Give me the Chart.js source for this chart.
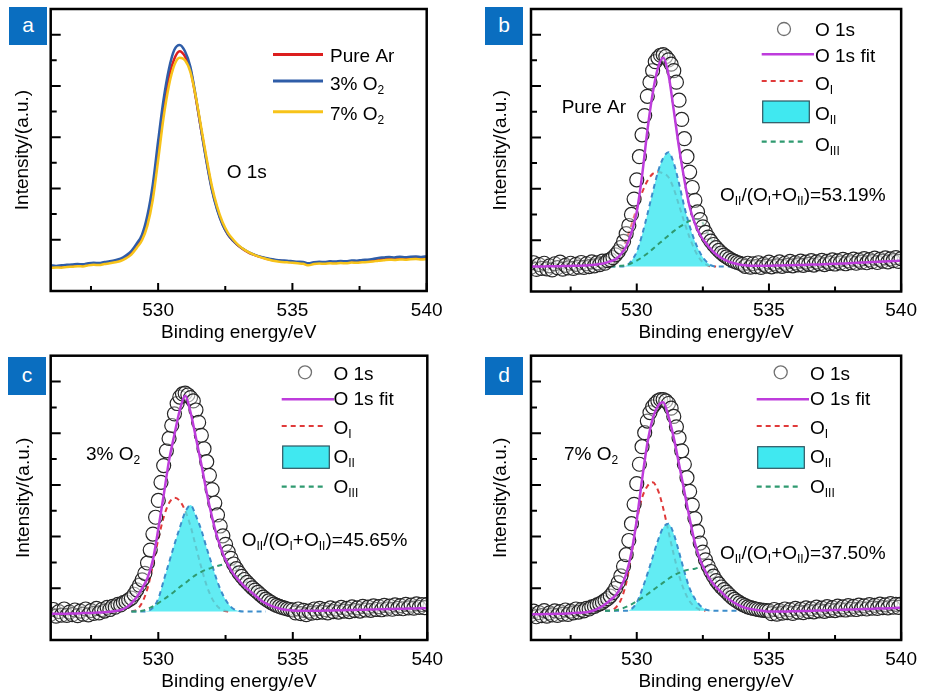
<!DOCTYPE html>
<html><head><meta charset="utf-8">
<script src="https://cdn.jsdelivr.net/npm/chart.js@4.4.1/dist/chart.umd.min.js"></script>
<style>
body{margin:0;background:#fff;width:925px;height:695px;position:relative;overflow:hidden;font-family:'Liberation Sans',Arial,sans-serif}
canvas{position:absolute}
.tag{position:absolute;width:38px;height:38px;background:#0A6EC0;color:#fff;font-size:21px;line-height:35px;text-align:center}
</style></head><body>
<canvas id="ca" width="462" height="345" style="left:0;top:0"></canvas>
<canvas id="cb" width="463" height="345" style="left:462px;top:0"></canvas>
<canvas id="cc" width="462" height="350" style="left:0;top:345px"></canvas>
<canvas id="cd" width="463" height="350" style="left:462px;top:345px"></canvas>
<div class="tag" style="left:9px;top:7px">a</div>
<div class="tag" style="left:485px;top:7px">b</div>
<div class="tag" style="left:8px;top:357px">c</div>
<div class="tag" style="left:485px;top:357px">d</div>
<script>
// ---------- axes ----------
const xMajorTicks = [530, 535, 540];
const xMinorTicks = [527.5, 532.5, 537.5];
const yMajorTicks = [2, 4, 6, 8, 10];
const yMinorTicks = [3, 5, 7, 9];

// ---------- energy grids (eV) ----------
const E0 = [526,526.2,526.4,526.6,526.8,527,527.2,527.4,527.6,527.8,
528,528.2,528.4,528.6,528.8,529,529.2,529.4,529.6,529.8,
530,530.2,530.4,530.6,530.8,531,531.2,531.4,531.6,531.8,
532,532.2,532.4,532.6,532.8,533,533.2,533.4,533.6,533.8,
534,534.2,534.4,534.6,534.8,535,535.2,535.4,535.6,535.8,
536,536.2,536.4,536.6,536.8,537,537.2,537.4,537.6,537.8,
538,538.2,538.4,538.6,538.8,539,539.2,539.4,539.6,539.8,540];
const E1 = [526,526.1,526.2,526.3,526.4,526.5,526.6,526.7,526.8,526.9,
527,527.1,527.2,527.3,527.4,527.5,527.6,527.7,527.8,527.9,
528,528.1,528.2,528.3,528.4,528.5,528.6,528.7,528.8,528.9,
529,529.1,529.2,529.3,529.4,529.5,529.6,529.7,529.8,529.9,
530,530.1,530.2,530.3,530.4,530.5,530.6,530.7,530.8,530.9,
531,531.1,531.2,531.3,531.4,531.5,531.6,531.7,531.8,531.9,
532,532.1,532.2,532.3,532.4,532.5,532.6,532.7,532.8,532.9,
533,533.1,533.2,533.3,533.4,533.5,533.6,533.7,533.8,533.9,
534,534.1,534.2,534.3,534.4,534.5,534.6,534.7,534.8,534.9,
535,535.1,535.2,535.3,535.4,535.5,535.6,535.7,535.8,535.9,
536,536.1,536.2,536.3,536.4,536.5,536.6,536.7,536.8,536.9,
537,537.1,537.2,537.3,537.4,537.5,537.6,537.7,537.8,537.9,
538,538.1,538.2,538.3,538.4,538.5,538.6,538.7,538.8,538.9,
539,539.1,539.2,539.3,539.4,539.5,539.6,539.7,539.8,539.9,540];
const Ec = [528.8,529,529.2,529.4,529.6,529.8,530,530.2,530.4,530.6,530.8,
531,531.2,531.4,531.6,531.8,532,532.2,532.4,532.6,532.8,
533,533.2,533.4,533.6,533.8,534,534.2,534.4,534.6,534.8,535];

// ---------- panel a ----------
const pureAr = [0.95,0.97,0.96,0.99,1.00,1.02,1.01,1.05,1.07,1.06,
1.10,1.13,1.17,1.22,1.33,1.50,1.75,2.05,2.70,3.85,
5.50,7.10,8.35,9.05,9.35,9.15,8.65,7.55,6.30,5.10,
4.00,3.20,2.60,2.20,1.95,1.75,1.60,1.48,1.40,1.33,
1.27,1.22,1.19,1.17,1.15,1.13,1.12,1.10,1.05,1.10,
1.12,1.11,1.13,1.12,1.14,1.13,1.16,1.15,1.17,1.18,
1.20,1.24,1.25,1.27,1.26,1.28,1.27,1.29,1.30,1.28,1.30];
const o2_3 = [1.00,0.98,1.00,1.02,1.03,1.05,1.04,1.08,1.10,1.09,
1.13,1.16,1.20,1.26,1.38,1.56,1.85,2.20,2.95,4.15,
5.85,7.45,8.65,9.40,9.60,9.35,8.75,7.60,6.30,5.05,
3.95,3.15,2.58,2.20,1.95,1.76,1.62,1.50,1.41,1.34,
1.29,1.25,1.21,1.19,1.18,1.16,1.14,1.13,1.08,1.12,
1.14,1.13,1.16,1.15,1.17,1.16,1.19,1.18,1.21,1.22,
1.25,1.29,1.31,1.33,1.31,1.34,1.32,1.34,1.35,1.33,1.35];
const o2_7 = [0.90,0.92,0.91,0.94,0.95,0.97,0.96,1.00,1.02,1.01,
1.05,1.08,1.12,1.17,1.27,1.42,1.68,1.98,2.55,3.55,
5.10,6.75,8.00,8.80,9.10,9.00,8.55,7.60,6.40,5.20,
4.10,3.28,2.68,2.27,2.00,1.78,1.62,1.50,1.40,1.32,
1.26,1.20,1.16,1.13,1.12,1.10,1.08,1.06,1.00,1.05,
1.07,1.06,1.08,1.07,1.09,1.08,1.11,1.10,1.12,1.13,
1.15,1.18,1.20,1.22,1.21,1.23,1.22,1.24,1.25,1.23,1.25];

// ---------- panel b (Pure Ar) ----------
const dataB = [0.95,1.12,0.86,1.05,0.90,1.10,0.88,1.00,0.84,1.08,
0.93,1.14,0.87,1.02,0.92,1.10,0.90,1.06,0.95,1.13,
0.94,1.08,0.97,1.15,1.00,1.12,1.05,1.18,1.10,1.20,
1.24,1.32,1.43,1.55,1.72,1.95,2.25,2.57,3.00,3.60,
4.35,5.25,6.10,6.85,7.60,8.15,8.60,8.95,9.10,9.20,
9.22,9.15,9.02,8.85,8.60,8.15,7.45,6.70,5.95,5.25,
4.65,4.05,3.55,3.10,2.80,2.52,2.30,2.12,1.96,1.83,
1.71,1.60,1.50,1.42,1.35,1.28,1.22,1.17,1.13,1.10,
1.06,0.98,1.10,0.95,1.08,0.97,1.12,0.94,1.06,0.99,
1.14,0.96,1.09,1.00,1.15,0.98,1.10,1.02,1.17,1.00,
1.12,1.04,1.18,1.02,1.14,1.06,1.20,1.03,1.15,1.08,
1.21,1.05,1.17,1.09,1.23,1.07,1.19,1.11,1.25,1.08,
1.20,1.12,1.26,1.10,1.22,1.14,1.28,1.12,1.24,1.16,
1.30,1.13,1.25,1.18,1.31,1.15,1.27,1.20,1.32,1.17,1.28];
const fitB = [0.97,0.97,0.97,0.98,0.98,0.98,0.99,0.99,1.00,1.00,
1.01,1.02,1.04,1.07,1.11,1.18,1.25,1.45,1.75,2.30,
3.10,4.50,6.25,7.70,8.70,9.10,8.45,7.05,5.60,4.35,
3.30,2.65,2.20,1.90,1.65,1.45,1.30,1.20,1.12,1.07,
1.03,1.01,1.00,1.00,1.00,1.00,1.01,1.01,1.02,1.02,
1.03,1.03,1.04,1.05,1.05,1.06,1.07,1.08,1.08,1.09,
1.10,1.11,1.12,1.13,1.14,1.15,1.16,1.17,1.18,1.19,1.20];
const oIB = [null,0.99,1.15,1.50,2.00,2.60,3.25,3.85,4.30,4.58,4.65,4.60,4.45,4.00,3.35,2.70,2.10,1.60,1.25,1.06,0.98,0.97,
null,null,null,null,null,null,null,null,null,null];
const oIIB = [null,0.97,0.97,0.97,1.00,1.20,1.55,2.20,3.00,3.85,4.65,5.20,5.42,5.00,4.20,3.30,2.55,1.95,1.50,1.20,1.03,
0.97,0.97,0.97,0.97,0.97,0.97,null,null,null,null,null];
const oIIIB = [null,0.97,0.98,1.00,1.03,1.10,1.20,1.33,1.48,1.65,1.83,2.00,2.18,2.35,2.50,2.63,2.75,2.82,2.80,2.45,2.05,
1.75,1.52,1.35,1.22,1.12,1.05,0.99,0.97,null,null,null];
const baseB = 0.97;

// ---------- panel c (3% O2) ----------
const dataC = [1.00,1.18,0.92,1.10,0.96,1.20,0.95,1.08,0.98,1.16,
0.94,1.12,1.00,1.20,0.97,1.14,1.03,1.22,1.05,1.18,
1.12,1.26,1.18,1.30,1.27,1.38,1.36,1.45,1.48,1.55,
1.62,1.77,1.94,2.12,2.33,2.58,2.98,3.48,4.10,4.75,
5.40,6.10,6.75,7.32,7.80,8.30,8.75,9.15,9.40,9.52,
9.55,9.48,9.38,9.25,8.90,8.42,7.92,7.40,6.90,6.37,
5.82,5.30,4.84,4.41,4.03,3.70,3.41,3.16,2.94,2.76,
2.60,2.46,2.34,2.23,2.12,2.02,1.93,1.84,1.75,1.66,
1.58,1.51,1.45,1.39,1.34,1.30,1.26,1.23,1.20,1.18,
1.16,1.05,1.20,1.02,1.15,0.98,1.12,1.04,1.20,1.06,
1.22,1.08,1.18,1.05,1.24,1.10,1.20,1.08,1.26,1.12,
1.22,1.10,1.28,1.14,1.24,1.12,1.30,1.16,1.27,1.15,
1.32,1.18,1.29,1.17,1.34,1.20,1.31,1.19,1.36,1.22,
1.33,1.21,1.38,1.24,1.35,1.23,1.40,1.26,1.37,1.25,1.38];
const fitC = [1.02,1.02,1.02,1.02,1.03,1.03,1.04,1.04,1.05,1.06,
1.07,1.09,1.12,1.16,1.25,1.42,1.66,2.00,2.40,3.10,
4.30,5.60,6.95,7.95,8.90,9.45,8.80,7.82,6.80,5.70,
4.75,3.95,3.35,2.90,2.55,2.30,2.08,1.90,1.72,1.55,
1.42,1.32,1.25,1.19,1.16,1.14,1.13,1.13,1.13,1.13,
1.13,1.14,1.14,1.15,1.15,1.16,1.16,1.17,1.17,1.18,
1.18,1.19,1.19,1.20,1.20,1.21,1.21,1.22,1.22,1.23,1.23];
const oIC = [null,1.10,1.18,1.45,2.00,2.90,3.90,4.75,5.30,5.50,5.38,5.00,4.40,3.60,2.80,2.10,1.60,1.30,1.15,1.10,
null,null,null,null,null,null,null,null,null,null,null,null];
const oIIC = [null,1.10,1.10,1.10,1.12,1.25,1.60,2.30,3.00,3.70,4.35,4.95,5.22,4.80,4.25,3.55,2.90,2.25,1.75,1.40,1.20,
1.12,1.10,1.10,1.10,1.10,1.10,null,null,null,null,null];
const oIIIC = [null,1.10,1.10,1.13,1.20,1.30,1.43,1.57,1.72,1.88,2.05,2.20,2.37,2.52,2.64,2.73,2.80,2.86,2.92,2.96,2.90,
2.60,2.34,2.12,1.93,1.75,1.58,1.45,1.34,1.26,1.20,1.16];
const baseC = 1.10;

// ---------- panel d (7% O2) ----------
const dataD = [0.98,1.12,0.90,1.06,0.94,1.14,0.92,1.05,0.97,1.13,
0.95,1.10,1.00,1.16,0.99,1.12,1.05,1.20,1.08,1.18,
1.13,1.22,1.20,1.28,1.30,1.36,1.40,1.46,1.53,1.60,
1.70,1.83,2.00,2.22,2.48,2.85,3.30,3.85,4.50,5.25,
6.05,6.80,7.48,8.02,8.47,8.80,9.02,9.15,9.25,9.30,
9.30,9.25,9.15,8.97,8.65,8.25,7.82,7.32,6.80,6.28,
5.75,5.22,4.70,4.20,3.75,3.40,3.10,2.86,2.65,2.47,
2.30,2.17,2.05,1.95,1.85,1.75,1.65,1.57,1.50,1.44,
1.38,1.33,1.28,1.25,1.22,1.20,1.18,1.16,1.15,1.14,
1.13,1.02,1.18,1.00,1.14,1.04,1.20,1.06,1.17,1.03,
1.22,1.08,1.19,1.06,1.24,1.10,1.21,1.09,1.27,1.13,
1.23,1.11,1.29,1.15,1.25,1.14,1.31,1.17,1.28,1.16,
1.33,1.19,1.30,1.18,1.35,1.21,1.32,1.20,1.37,1.23,
1.34,1.22,1.39,1.25,1.36,1.24,1.41,1.27,1.38,1.26,1.39];
const fitD = [1.00,1.00,1.00,1.01,1.01,1.02,1.02,1.03,1.04,1.05,
1.06,1.09,1.15,1.25,1.38,1.55,1.72,2.05,2.55,3.40,
4.65,6.20,7.60,8.55,9.05,9.20,8.65,7.82,6.80,5.75,
4.70,3.75,3.10,2.65,2.30,2.05,1.85,1.65,1.50,1.38,
1.28,1.22,1.18,1.15,1.12,1.10,1.10,1.10,1.10,1.11,
1.11,1.12,1.12,1.13,1.14,1.14,1.15,1.16,1.16,1.17,
1.18,1.18,1.19,1.20,1.20,1.21,1.22,1.22,1.23,1.24,1.25];
const oID = [1.13,1.15,1.25,1.55,2.20,3.30,4.60,5.50,5.95,6.10,5.80,5.10,4.20,3.30,2.50,1.90,1.50,1.28,1.17,1.13,
null,null,null,null,null,null,null,null,null,null,null,null];
const oIID = [1.13,1.13,1.13,1.13,1.13,1.20,1.45,1.95,2.55,3.20,3.85,4.35,4.50,4.10,3.40,2.65,2.00,1.60,1.33,1.18,1.14,
1.13,1.13,1.13,1.13,1.13,1.13,null,null,null,null,null];
const oIIID = [1.13,1.13,1.15,1.20,1.28,1.38,1.50,1.63,1.77,1.92,2.07,2.22,2.37,2.50,2.60,2.68,2.73,2.76,2.82,2.85,2.65,
2.30,2.05,1.85,1.67,1.52,1.40,1.32,1.25,1.20,1.16,1.14];
const baseD = 1.13;

// ---------- styles ----------
const FONT = "'Liberation Sans', Arial, sans-serif";
Chart.defaults.font.family = FONT;
Chart.defaults.color = '#000';
const C = {red:'#DC1E1E', blue:'#2F5DA8', yellow:'#F7C31A', fit:'#BE3CDC', oI:'#E03A3A', oII:'#3D8DCB',
  fill:'rgba(64,232,240,0.82)', fillSolid:'#40E8F0', oIII:'#2F9A70', circ:'#262626'};

const pts = (xs, ys) => xs.map((x, i) => ({x, y: ys[i]})).filter(p => p.y !== null && p.y !== undefined);

function drawRich(ctx, x, mid, parts) {
  const base = mid + 6.8;
  ctx.fillStyle = '#000';
  ctx.textBaseline = 'alphabetic';
  ctx.textAlign = 'left';
  parts.forEach(([t, sub]) => {
    ctx.font = (sub ? '12px ' : '19px ') + FONT;
    ctx.fillText(t, x, sub ? base + 4 : base);
    x += ctx.measureText(t).width;
  });
}

function makeDeco(cfg) {
  return {
    id: 'deco',
    afterDraw(chart) {
      const {ctx, chartArea: ca, scales: {x, y}} = chart;
      ctx.save();
      ctx.strokeStyle = '#000';
      ctx.lineWidth = 2;
      ctx.beginPath();
      xMajorTicks.forEach(v => { const p = x.getPixelForValue(v); ctx.moveTo(p, ca.bottom); ctx.lineTo(p, ca.bottom - 8); });
      xMinorTicks.forEach(v => { const p = x.getPixelForValue(v); ctx.moveTo(p, ca.bottom); ctx.lineTo(p, ca.bottom - 5); });
      yMajorTicks.forEach(v => { const p = y.getPixelForValue(v); ctx.moveTo(ca.left, p); ctx.lineTo(ca.left + 10, p); });
      yMinorTicks.forEach(v => { const p = y.getPixelForValue(v); ctx.moveTo(ca.left, p); ctx.lineTo(ca.left + 6, p); });
      ctx.stroke();
      ctx.lineWidth = 2.5;
      ctx.strokeRect(ca.left, ca.top, ca.right - ca.left, ca.bottom - ca.top);
      (cfg.items || []).forEach(it => {
        ctx.save();
        if (it.k === 'line') {
          ctx.strokeStyle = it.c; ctx.lineWidth = it.w || 2.5; ctx.setLineDash(it.dash || []);
          ctx.beginPath(); ctx.moveTo(it.x1, it.y); ctx.lineTo(it.x2, it.y); ctx.stroke();
        } else if (it.k === 'circle') {
          ctx.strokeStyle = '#707070'; ctx.lineWidth = 1.3;
          ctx.beginPath(); ctx.arc(it.x, it.y, 6.5, 0, Math.PI * 2); ctx.stroke();
        } else if (it.k === 'rect') {
          ctx.fillStyle = C.fillSolid; ctx.fillRect(it.x1, it.y1, it.x2 - it.x1, it.y2 - it.y1);
          ctx.strokeStyle = '#2d5560'; ctx.lineWidth = 1.2; ctx.strokeRect(it.x1, it.y1, it.x2 - it.x1, it.y2 - it.y1);
        }
        ctx.restore();
      });
      (cfg.texts || []).forEach(t => drawRich(ctx, t.x, t.m, t.parts));
      ctx.restore();
    }
  };
}

function options(p) {
  return {
    responsive: false, animation: false, devicePixelRatio: 1,
    layout: {padding: {left: 0, top: p.top, right: p.W - p.right, bottom: 0}},
    plugins: {legend: {display: false}, tooltip: {enabled: false}},
    scales: {
      x: {type: 'linear', min: 526, max: 540,
        grid: {display: false, drawTicks: false}, border: {display: false},
        ticks: {font: {size: 19}, color: '#000', padding: 8},
        afterBuildTicks: s => { s.ticks = xMajorTicks.map(v => ({value: v})); },
        afterFit: s => { s.height = p.H - p.bottom; },
        title: {display: true, text: 'Binding energy/eV', font: {size: 19}, color: '#000', padding: {top: 0, bottom: p.xtp}}},
      y: {type: 'linear', min: 0, max: 11,
        grid: {display: false, drawTicks: false}, border: {display: false},
        ticks: {display: false},
        afterFit: s => { s.width = p.left; },
        title: {display: true, text: 'Intensity/(a.u.)', font: {size: 19}, color: '#000', padding: {top: p.ytp, bottom: 0}}}
    }
  };
}

const lineDs = (data, color, order) => ({data, borderColor: color, borderWidth: 2.5, pointRadius: 0,
  cubicInterpolationMode: 'monotone', fill: false, order});

function specDatasets(data, fit, o1, o2, o3, base) {
  return [
    {data: pts(E0, fit), borderColor: C.fit, borderWidth: 2.5, pointRadius: 0, cubicInterpolationMode: 'monotone', fill: false, order: 0},
    {data: pts(E1, data), showLine: false, pointRadius: 7, pointBorderWidth: 1.2, pointBorderColor: C.circ,
      pointBackgroundColor: 'rgba(255,255,255,0.35)', order: 1},
    {data: pts(Ec, o3), borderColor: C.oIII, borderWidth: 2, borderDash: [5, 4], pointRadius: 0, cubicInterpolationMode: 'monotone', fill: false, order: 2},
    {data: pts(Ec, o2), borderColor: C.oII, borderWidth: 2, borderDash: [5, 4], pointRadius: 0, cubicInterpolationMode: 'monotone',
      fill: {value: base}, backgroundColor: C.fill, order: 3},
    {data: pts(Ec, o1), borderColor: C.oI, borderWidth: 2, borderDash: [5, 4], pointRadius: 0, cubicInterpolationMode: 'monotone', fill: false, order: 4}
  ];
}

function specLegend(cx, tx, lx1, lx2, ys, rect) {
  return [
    {k: 'circle', x: cx, y: ys[0]},
    {k: 'line', x1: lx1, x2: lx2 + 9, y: ys[1], c: C.fit, w: 2.5},
    {k: 'line', x1: lx1, x2: lx2, y: ys[2], c: C.oI, w: 2.2, dash: [5, 4]},
    {k: 'rect', x1: rect[0], y1: rect[1], x2: rect[2], y2: rect[3]},
    {k: 'line', x1: lx1, x2: lx2, y: ys[3], c: C.oIII, w: 2.2, dash: [5, 4]}
  ];
}
function specTexts(tx, ms) {
  return [
    {x: tx, m: ms[0], parts: [['O 1s', 0]]},
    {x: tx, m: ms[1], parts: [['O 1s fit', 0]]},
    {x: tx, m: ms[2], parts: [['O', 0], ['I', 1]]},
    {x: tx, m: ms[3], parts: [['O', 0], ['II', 1]]},
    {x: tx, m: ms[4], parts: [['O', 0], ['III', 1]]}
  ];
}
const ratio = (x, m, val) => ({x, m, parts: [['O', 0], ['II', 1], ['/(O', 0], ['I', 1], ['+O', 0], ['II', 1], [')=' + val, 0]]});

// ---------- panel a ----------
new Chart(document.getElementById('ca'), {
  type: 'line',
  data: {datasets: [lineDs(pts(E0, o2_7), C.yellow, 0), lineDs(pts(E0, o2_3), C.blue, 1), lineDs(pts(E0, pureAr), C.red, 2)]},
  options: options({W: 462, H: 345, left: 50.7, top: 9, right: 426.7, bottom: 291, xtp: 1.2, ytp: 11.6}),
  plugins: [makeDeco({
    items: [{k: 'line', x1: 273, x2: 323, y: 54.5, c: C.red, w: 3},
            {k: 'line', x1: 273, x2: 323, y: 81, c: C.blue, w: 3},
            {k: 'line', x1: 273, x2: 323, y: 111.7, c: C.yellow, w: 3}],
    texts: [{x: 330, m: 54.7, parts: [['Pure Ar', 0]]},
            {x: 330, m: 83, parts: [['3% O', 0], ['2', 1]]},
            {x: 330, m: 113, parts: [['7% O', 0], ['2', 1]]},
            {x: 226.7, m: 171.5, parts: [['O 1s', 0]]}]
  })]
});

// ---------- panel b ----------
new Chart(document.getElementById('cb'), {
  type: 'line',
  data: {datasets: specDatasets(dataB, fitB, oIB, oIIB, oIIIB, baseB)},
  options: options({W: 463, H: 345, left: 69, top: 9, right: 445.7, bottom: 291.5, xtp: 0.6, ytp: 27.6}),
  plugins: [makeDeco({
    items: specLegend(322, 353, 299.7, 343, [29, 54.3, 81, 141.7], [300.7, 101, 347.3, 122.7]),
    texts: specTexts(353, [29, 55, 82.7, 113.3, 144.3]).concat([
      {x: 99.7, m: 106, parts: [['Pure Ar', 0]]}, ratio(258, 194.5, '53.19%')])
  })]
});

// ---------- panel c ----------
new Chart(document.getElementById('cc'), {
  type: 'line',
  data: {datasets: specDatasets(dataC, fitC, oIC, oIIC, oIIIC, baseC)},
  options: options({W: 462, H: 350, left: 50.7, top: 10.7, right: 427.3, bottom: 295, xtp: 2.2, ytp: 11.9}),
  plugins: [makeDeco({
    items: specLegend(305, 333.3, 281.7, 325, [27.3, 54.3, 81, 141.7], [282.7, 101, 329.3, 123.3]),
    texts: specTexts(333.5, [27.7, 53.5, 81.7, 111.3, 141.3]).concat([
      {x: 86, m: 108.3, parts: [['3% O', 0], ['2', 1]]}, ratio(241.7, 194.5, '45.65%')])
  })]
});

// ---------- panel d ----------
new Chart(document.getElementById('cd'), {
  type: 'line',
  data: {datasets: specDatasets(dataD, fitD, oID, oIID, oIIID, baseD)},
  options: options({W: 463, H: 350, left: 69, top: 10.7, right: 445.7, bottom: 295, xtp: 2.2, ytp: 27.6}),
  plugins: [makeDeco({
    items: specLegend(318.7, 348, 294.7, 338, [27.3, 54.3, 81, 141.7], [295.7, 101.7, 342.3, 123.3]),
    texts: specTexts(348, [27.7, 53.5, 81.7, 111.3, 141.3]).concat([
      {x: 102, m: 108.3, parts: [['7% O', 0], ['2', 1]]}, ratio(258, 207, '37.50%')])
  })]
});
</script>
</body></html>
